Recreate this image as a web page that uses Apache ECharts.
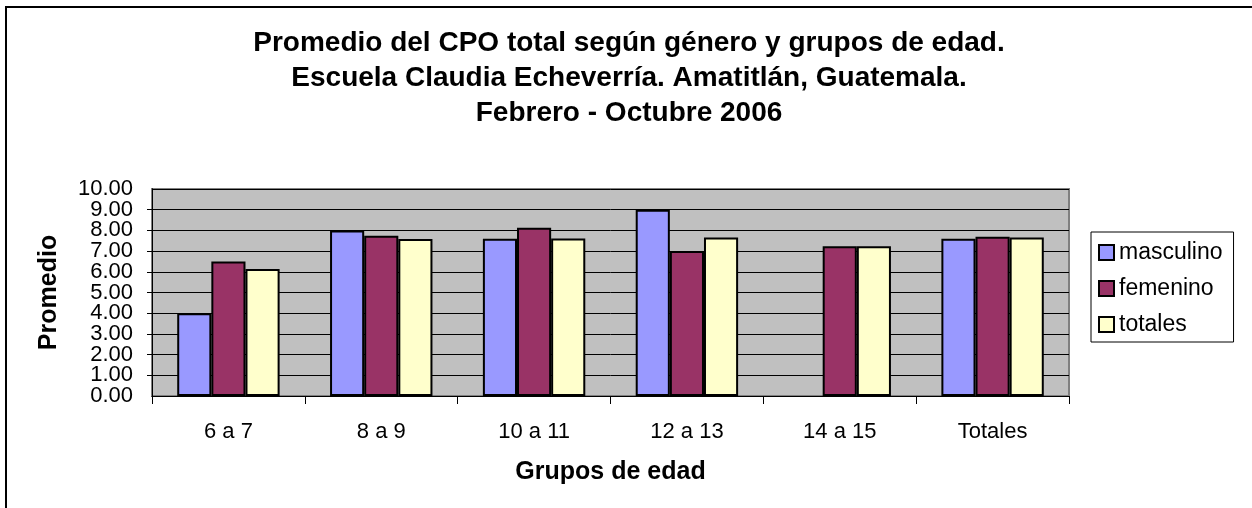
<!DOCTYPE html>
<html>
<head>
<meta charset="utf-8">
<script src="https://cdn.jsdelivr.net/npm/echarts@6/dist/echarts.min.js"></script>
<style>
html, body { margin: 0; padding: 0; background: #fff; }
#chart { width: 1252px; height: 508px; }
</style>
</head>
<body>
<div id="chart"></div>
<script>
// datos
var categorias = ['6 a 7', '8 a 9', '10 a 11', '12 a 13', '14 a 15', 'Totales'];
var masculino = [4.00, 8.00, 7.60, 9.00, null, 7.60];
var femenino = [6.50, 7.74, 8.13, 7.00, 7.24, 7.69];
var totales = [6.13, 7.58, 7.61, 7.66, 7.24, 7.66];
var nombres = ['masculino', 'femenino', 'totales'];
var colores = ['#9999FF', '#993366', '#FFFFCC'];

var fuente = "'Liberation Sans', Arial, sans-serif";

function serie(nombre, datos, color) {
	return {
		name: nombre,
		type: 'bar',
		data: datos,
		yAxisIndex: 0,
		barGap: '0%',
		barCategoryGap: '33%',
		itemStyle: { color: color, borderColor: '#000', borderWidth: 2 }
	};
}

var etiqueta = { fontFamily: fuente, fontSize: 22, color: '#000', margin: 19 };

var myChart = echarts.init(document.getElementById('chart'));
var option = {
	backgroundColor: '#fff',
	animation: false,
	textStyle: { fontFamily: fuente },
	title: {
		text: 'Promedio del CPO total según género y grupos de edad.\nEscuela Claudia Echeverría. Amatitlán, Guatemala.\nFebrero - Octubre 2006',
		left: 624,
		top: 21,
		textAlign: 'center',
		textStyle: { fontFamily: fuente, fontSize: 28, fontWeight: 'bold', color: '#000', lineHeight: 35 }
	},
	graphic: [{
		type: 'rect',
		shape: { x: 6, y: 7, width: 1400, height: 600 },
		style: { fill: 'none', stroke: '#000', lineWidth: 2 },
		silent: true
	}],
	legend: {
		data: nombres,
		orient: 'vertical',
		left: 1091,
		top: 232,
		padding: [9, 11, 6, 7],
		itemGap: 13,
		itemWidth: 15,
		itemHeight: 15,
		icon: 'rect',
		borderColor: '#000',
		borderWidth: 1,
		backgroundColor: '#fff',
		borderRadius: 0,
		textStyle: { fontFamily: fuente, fontSize: 23, color: '#000' }
	},
	grid: {
		left: 152,
		right: 183,
		top: 189,
		bottom: 112,
		show: true,
		backgroundColor: '#C0C0C0',
		borderColor: '#808080',
		borderWidth: 2
	},
	xAxis: {
		type: 'category',
		data: categorias,
		name: 'Grupos de edad',
		nameLocation: 'middle',
		nameGap: 64,
		nameTextStyle: { fontFamily: fuente, fontSize: 25, fontWeight: 'bold', color: '#000' },
		axisLine: { lineStyle: { color: '#000', width: 1 } },
		axisTick: { show: true, length: 8, alignWithLabel: false, lineStyle: { color: '#000' } },
		axisLabel: { fontFamily: fuente, fontSize: 22, color: '#000', margin: 25, interval: 0 }
	},
	yAxis: [{
		// eje principal: etiquetas pares
		type: 'value',
		position: 'left',
		min: 0,
		max: 10,
		interval: 2,
		name: 'Promedio',
		nameLocation: 'middle',
		nameGap: 90,
		nameTextStyle: { fontFamily: fuente, fontSize: 25, fontWeight: 'bold', color: '#000' },
		axisLine: { show: true, lineStyle: { color: '#000', width: 1 } },
		axisTick: { show: false },
		splitLine: { show: false },
		axisLabel: Object.assign({}, etiqueta, {
			showMinLabel: true, showMaxLabel: true,
			formatter: function (v) { return v.toFixed(2); }
		})
	}, {
		// eje auxiliar: etiquetas impares, marcas y lineas de division
		type: 'value',
		position: 'left',
		offset: 0,
		min: 0,
		max: 10,
		interval: 1,
		axisLine: { show: true, lineStyle: { color: '#000', width: 1 } },
		axisTick: { show: true, length: 5, lineStyle: { color: '#000' } },
		splitLine: { show: true, lineStyle: { color: '#000', width: 1 } },
		axisLabel: Object.assign({}, etiqueta, {
			showMinLabel: false, showMaxLabel: false,
			formatter: function (v) { return v % 2 === 1 ? v.toFixed(2) : ''; }
		})
	}],
	series: [
		serie(nombres[0], masculino, colores[0]),
		serie(nombres[1], femenino, colores[1]),
		serie(nombres[2], totales, colores[2])
	]
};
myChart.setOption(option);
</script>
</body>
</html>
